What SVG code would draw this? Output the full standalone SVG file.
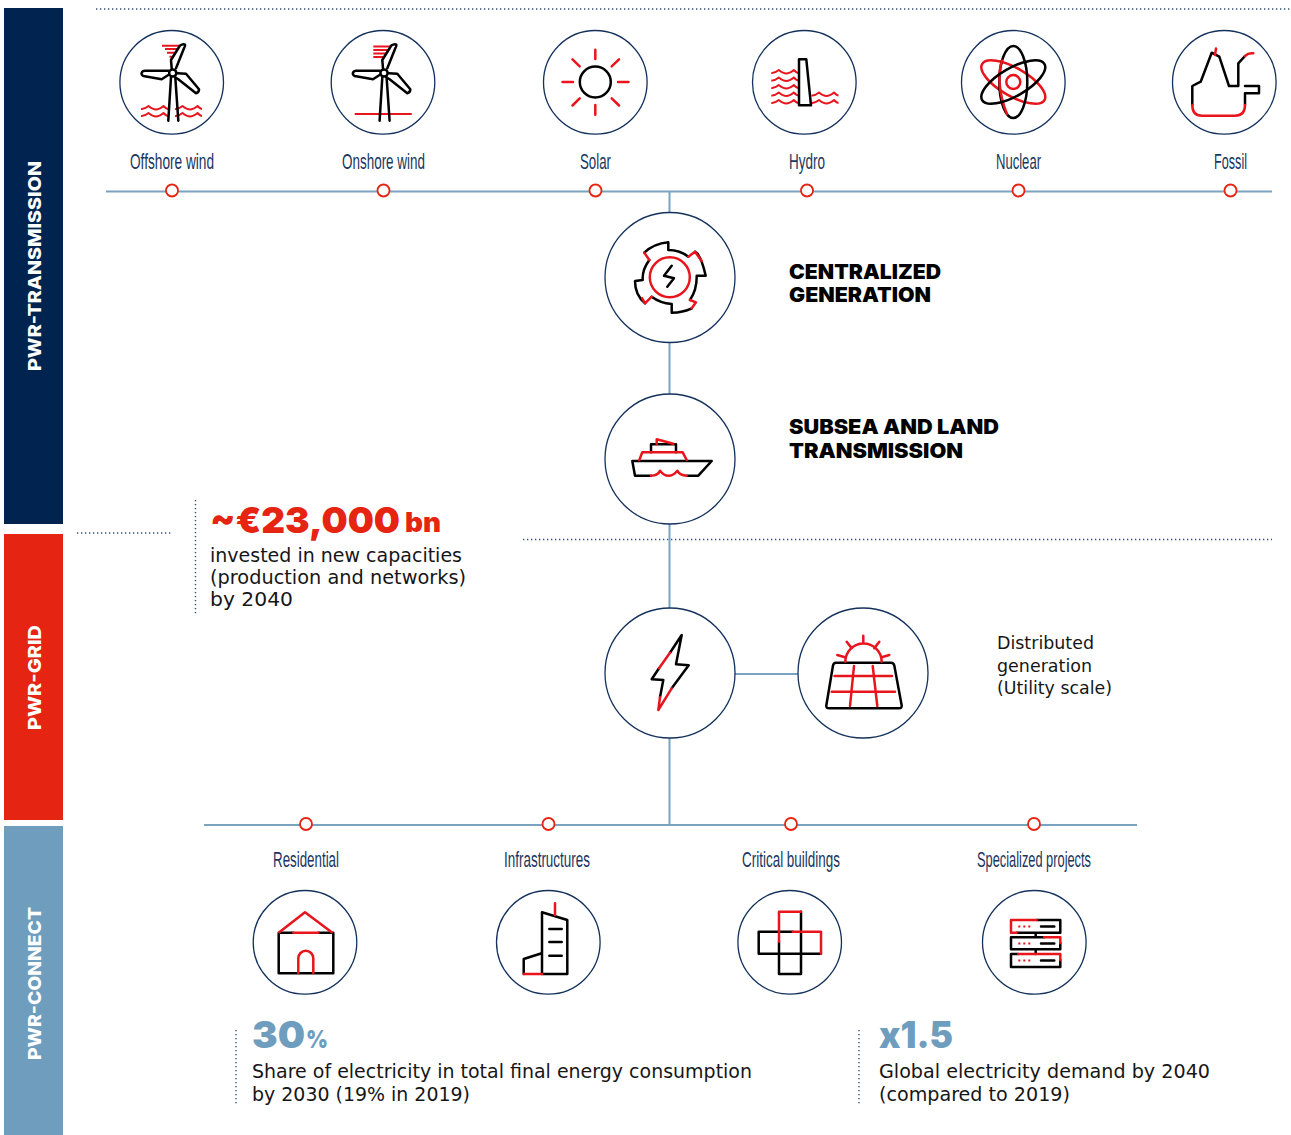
<svg xmlns="http://www.w3.org/2000/svg" width="1291" height="1135" viewBox="0 0 1291 1135">
<style>
text{font-family:"Liberation Sans",Arial,sans-serif}
.ring{fill:#fff;stroke:#14315c;stroke-width:1.3}
.k,.r{fill:none;stroke-width:2.5;stroke-linejoin:round;stroke-linecap:round}
.k{stroke:#000}.r{stroke:#e8151d}
.rw{fill:none;stroke:#e8151d;stroke-width:2;stroke-linejoin:round}
.link{fill:none;stroke:#7ba3bf;stroke-width:2}
.dot{fill:#fff;stroke:#e62412;stroke-width:1.8}
.dots{fill:none;stroke:#2f4c7d;stroke-width:1.4;stroke-dasharray:1.3 2.7}
.lab{font-size:22px;fill:#1a3660;text-anchor:start}
.head{font-family:Inter,"Liberation Sans",sans-serif;font-size:20px;font-weight:900;fill:#000}
.body{font-family:"DejaVu Sans",sans-serif;font-size:19px;fill:#161616}
.small{font-family:"DejaVu Sans",sans-serif;font-size:17.5px;fill:#161616}
.side{font-family:Inter,"Liberation Sans",sans-serif;font-size:18px;font-weight:800;fill:#fff}
.big{font-family:Inter,"Liberation Sans",sans-serif;font-weight:900}
</style>
<defs>
<g id="turbine">
<path class="k" d="M171.700 68.300L171 60L180 45.500Q183 43.500 185 44.500Q185.500 46 184 48.300L176 68.300"/>
<path class="k" d="M168.300 75L161.700 79.300L143.300 76Q141 74.500 141.700 72.700Q142.500 70.700 145 70.700L168.300 70.700"/>
<path class="k" d="M177.300 73.300L186 73.800L199 89.300Q199 92.500 196 93.300L178.300 79.300L175 77.300"/>
<circle class="k" cx="172.700" cy="73" r="3.600"/>
<path class="k" d="M171 77.300L168.300 120.700M175.300 77.300L178.300 120.700"/>
</g>
<path id="wave" class="rw" d="M0 3C3 3.500 5 2 7.500 0C10 2 12 3.500 15 3.500C18 3.500 20 2 22.500 0C24.500 2 26 3 27 3"/>
</defs>

<g id="bands">
<rect x="4" y="8" width="59" height="516" fill="#00244f"/>
<rect x="4" y="534" width="59" height="286" fill="#e62412"/>
<rect x="4" y="826" width="59" height="309" fill="#6f9dbd"/>
<text class="side" transform="translate(41 371) rotate(-90)" textLength="210" lengthAdjust="spacingAndGlyphs">PWR-TRANSMISSION</text>
<text class="side" transform="translate(41 730) rotate(-90)" textLength="105" lengthAdjust="spacingAndGlyphs">PWR-GRID</text>
<text class="side" transform="translate(41 1060) rotate(-90)" textLength="153" lengthAdjust="spacingAndGlyphs">PWR-CONNECT</text>
</g>

<g id="separators">
<path class="dots" d="M96 9H1291M77 533H172M523 539.500H1272M195.500 500V615M236 1030V1105M859 1030V1105"/>
</g>

<g id="connectors">
<path class="link" d="M106 191.500H1272M204 825H1137M669.500 191.500V825M735 674H798"/>
<circle class="dot" cx="172" cy="190.500" r="6"/><circle class="dot" cx="383.500" cy="190.500" r="6"/><circle class="dot" cx="595.500" cy="190.500" r="6"/><circle class="dot" cx="807" cy="190.500" r="6"/><circle class="dot" cx="1018.500" cy="190.500" r="6"/><circle class="dot" cx="1230.500" cy="190.500" r="6"/>
<circle class="dot" cx="306" cy="824" r="6"/><circle class="dot" cx="548.500" cy="824" r="6"/><circle class="dot" cx="791" cy="824" r="6"/><circle class="dot" cx="1034" cy="824" r="6"/>
</g>

<g id="offshore-wind">
<circle class="ring" cx="171.700" cy="82.300" r="51.800"/>
<path class="rw" d="M162 45.700H179M165 49H178M167 52.700H175M169.500 56.700H173"/>
<use href="#wave" x="141" y="106"/><use href="#wave" x="141" y="113"/><use href="#wave" x="175" y="106"/><use href="#wave" x="175" y="113"/>
<use href="#turbine"/>
<text class="lab" x="130" y="169" textLength="84" lengthAdjust="spacingAndGlyphs">Offshore wind</text>
</g>
<g id="onshore-wind">
<circle class="ring" cx="383" cy="82.300" r="51.800"/>
<path class="rw" d="M373.300 46.500H390M373.300 50H389M373.300 53.500H387M373.300 57H383M354.700 114H411.700"/>
<use href="#turbine" x="211.300"/>
<text class="lab" x="342" y="169" textLength="83" lengthAdjust="spacingAndGlyphs">Onshore wind</text>
</g>
<g id="solar">
<circle class="ring" cx="595.300" cy="82.300" r="51.800"/>
<circle class="k" cx="595.300" cy="82" r="15.500"/>
<path class="r" d="M595.300 49.700V59M595.300 105V114.700M562.500 82H573M618 82H628.500M572.500 59.300L579.700 66.300M619 59.300L611.700 66.300M572.500 105.500L579.700 98.300M619 105.500L611.700 98.300"/>
<text class="lab" x="580" y="169" textLength="31" lengthAdjust="spacingAndGlyphs">Solar</text>
</g>
<g id="hydro">
<circle class="ring" cx="804.300" cy="82.300" r="51.800"/>
<use href="#wave" x="771.300" y="70"/><use href="#wave" x="771.300" y="77.500"/><use href="#wave" x="771.300" y="85"/><use href="#wave" x="771.300" y="92.500"/><use href="#wave" x="771.300" y="100"/>
<use href="#wave" x="811.500" y="92.500"/><use href="#wave" x="811.500" y="100"/>
<path class="k" d="M799 59.300H806.300L811 105.300H799Z"/>
<text class="lab" x="789" y="169" textLength="36" lengthAdjust="spacingAndGlyphs">Hydro</text>
</g>
<g id="nuclear">
<circle class="ring" cx="1013.300" cy="82.300" r="51.800"/>
<ellipse class="r" cx="1013.300" cy="82" rx="36" ry="14" transform="rotate(30 1013.300 82)"/>
<ellipse class="k" cx="1013.300" cy="82" rx="14" ry="36"/>
<path class="r" d="M1002 60.500C998 72 998 92 1007 114"/>
<ellipse class="k" cx="1013.300" cy="82" rx="36" ry="14" transform="rotate(-30 1013.300 82)"/>
<circle class="r" cx="1013.300" cy="82" r="7"/>
<text class="lab" x="996" y="169" textLength="45" lengthAdjust="spacingAndGlyphs">Nuclear</text>
</g>
<g id="fossil">
<circle class="ring" cx="1224.300" cy="82.300" r="51.800"/>
<path class="k" d="M1192.300 105V86L1200.700 81.700L1211.700 52.700L1219.300 56.700L1229 86H1238.300V63.300L1245 56M1245 86H1259V93.300H1245V105"/>
<path class="r" d="M1245 56Q1248.500 52.500 1253.300 53.300M1216 48.500L1215 55M1192.300 105Q1192.300 115.700 1201.700 115.700H1235Q1245 115.700 1245 105"/>
<text class="lab" x="1214" y="169" textLength="33" lengthAdjust="spacingAndGlyphs">Fossil</text>
</g>

<g id="centralized-generation">
<circle class="ring" cx="670" cy="277.500" r="65"/>
<path class="k" d="M644.300 252.700Q654 243.500 668.300 242.300V250Q680 250 688.300 256.700M695 251.700Q701 255 705.700 275.700H696.700Q697 290 690 300M691.700 308.300Q683 312.500 671.700 312.700V304Q660 303 651.700 296.700M645 303.300Q635 295 635 281L642.700 280Q642 270 649.300 260"/>
<path class="r" d="M688.300 256.700L695 251.700L701.700 261M690 300L696 302.300L691.700 308.300M651.700 296.700L645 303.300L642 298M649.300 260L644.300 252.700"/>
<circle class="r" cx="669.800" cy="277.300" r="20"/>
<path class="k" d="M671.700 265.700L664 275.700L674 278.300L667.300 286.700"/>
<text class="head" x="789" y="279" textLength="152" lengthAdjust="spacingAndGlyphs">CENTRALIZED</text>
<text class="head" x="789" y="302" textLength="142" lengthAdjust="spacingAndGlyphs">GENERATION</text>
</g>
<g id="subsea-land-transmission">
<circle class="ring" cx="670" cy="459" r="65"/>
<path class="k" d="M651 475.700H635L632.300 461H711.700L698.300 475.700H686.700M651 452.300V444.300H676V452.300"/>
<path class="r" d="M639.300 460L642.300 452.300H682.700L686.700 460M656.700 444.300V439.300L673.300 443.700M651 475.700Q658 475.500 660 470.700Q664 475.700 668.300 475.700Q673.500 475.700 677.300 470.700Q680 475.700 686.700 475.700"/>
<text class="head" x="789" y="434" textLength="210" lengthAdjust="spacingAndGlyphs">SUBSEA AND LAND</text>
<text class="head" x="789" y="458" textLength="174" lengthAdjust="spacingAndGlyphs">TRANSMISSION</text>
</g>
<g id="grid">
<circle class="ring" cx="670" cy="673" r="65"/>
<path class="k" d="M670 652.700L681.700 635L676 664.300L688.700 665.300L671.700 688.300M659 668.300L651.700 679.300L663.300 680L660 697.300"/>
<path class="r" d="M670 652.700L659 668.300M660 697.300L658.300 710L671.700 688.300"/>
</g>
<g id="distributed-generation">
<circle class="ring" cx="863" cy="673" r="65"/>
<path class="k" d="M836 662.700H891Q893.700 662.700 894.300 665.500L901.700 705.500Q902 708.300 899 708.300H829Q826 708.300 826.300 705.500L833 665.500Q833.500 662.700 836 662.700Z"/>
<path class="r" d="M834.500 676H892M831.700 691.700H895M854 666L850 706M872.700 666L877.300 706M845.300 661.700A18.200 18.200 0 0 1 881.700 661.700M863.300 635.700V643.300M846.700 641.700L851.700 648.300M879.300 641.700L874.300 648.300M837.300 655L845 657.300M889.300 655L881.700 657.300"/>
<text class="small" x="997" y="649" textLength="97" lengthAdjust="spacingAndGlyphs">Distributed</text>
<text class="small" x="997" y="672" textLength="95" lengthAdjust="spacingAndGlyphs">generation</text>
<text class="small" x="997" y="694" textLength="115" lengthAdjust="spacingAndGlyphs">(Utility scale)</text>
</g>

<g id="stat-investment">
<text class="big" x="210" y="533" font-size="36" fill="#e62412" textLength="190" lengthAdjust="spacingAndGlyphs">~€23,000</text>
<text class="big" x="405" y="532" font-size="27" fill="#e62412" textLength="36" lengthAdjust="spacingAndGlyphs">bn</text>
<text class="body" x="210" y="562" textLength="252" lengthAdjust="spacingAndGlyphs">invested in new capacities</text>
<text class="body" x="210" y="584" textLength="256" lengthAdjust="spacingAndGlyphs">(production and networks)</text>
<text class="body" x="210" y="606" textLength="83" lengthAdjust="spacingAndGlyphs">by 2040</text>
</g>

<g id="residential">
<circle class="ring" cx="305" cy="942.300" r="51.800"/>
<path class="k" d="M293.300 932.700H278.700V973.300H333.300V932.700H318.300"/>
<path class="r" d="M279.300 932.300L305 912.300L331.700 932.300M293.300 932.700H318.300M298.300 973V958.300A7.500 7.500 0 0 1 313.300 958.300V973"/>
<text class="lab" x="273" y="867" textLength="66" lengthAdjust="spacingAndGlyphs">Residential</text>
</g>
<g id="infrastructures">
<circle class="ring" cx="548.300" cy="942.300" r="51.800"/>
<path class="k" d="M542 912.300L567.300 920V974H542ZM549.300 929H561.700M549.300 942H561.700M549.300 955.700H561.700M541.700 953.300L523.700 959V974"/>
<path class="r" d="M555 903.300V915M523.700 974H542"/>
<text class="lab" x="504" y="867" textLength="86" lengthAdjust="spacingAndGlyphs">Infrastructures</text>
</g>
<g id="critical-buildings">
<circle class="ring" cx="789.700" cy="942.300" r="51.800"/>
<path class="k" d="M801 911.700V974H779V941.700M792.700 931.700H758.700V953.700H821"/>
<path class="r" d="M779 941.700V911.700H801M821 953.700V931.700H792.700"/>
<text class="lab" x="742" y="867" textLength="98" lengthAdjust="spacingAndGlyphs">Critical buildings</text>
</g>
<g id="specialized-projects">
<circle class="ring" cx="1034.300" cy="942.300" r="51.800"/>
<path class="k" d="M1036.700 920H1060.300V932.700H1016.700M1035.700 932.700V937.300M1044 937.300H1011V949.300H1060.300V943M1035.700 949.300V954M1018.300 954H1011V967H1060.300V960M1041 926.500H1054.300M1041 943.500H1054.300M1041 960.500H1054.300"/>
<path class="r" d="M1036.700 920H1011V932.700H1016.700M1044 937.300H1060.300V943M1018.300 954H1060.300V960"/>
<path d="M1018.300 926.500h2M1023.300 926.500h2M1028.300 926.500h2M1018.300 943.500h2M1023.300 943.500h2M1028.300 943.500h2M1018.300 960.500h2M1023.300 960.500h2M1028.300 960.500h2" fill="none" stroke="#e8151d" stroke-width="2"/>
<text class="lab" x="977" y="867" textLength="114" lengthAdjust="spacingAndGlyphs">Specialized projects</text>
</g>

<g id="stat-share">
<text class="big" x="252" y="1048" font-size="37" fill="#6f9dbd" textLength="53" lengthAdjust="spacingAndGlyphs">30</text>
<text class="big" x="306" y="1048" font-size="25" font-weight="800" fill="#6f9dbd" textLength="22" lengthAdjust="spacingAndGlyphs">%</text>
<text class="body" x="252" y="1078" textLength="500" lengthAdjust="spacingAndGlyphs">Share of electricity in total final energy consumption</text>
<text class="body" x="252" y="1101" textLength="218" lengthAdjust="spacingAndGlyphs">by 2030 (19% in 2019)</text>
</g>
<g id="stat-demand">
<text class="big" x="879" y="1048" font-size="37" fill="#6f9dbd" textLength="74" lengthAdjust="spacingAndGlyphs">x1.5</text>
<text class="body" x="879" y="1078" textLength="331" lengthAdjust="spacingAndGlyphs">Global electricity demand by 2040</text>
<text class="body" x="879" y="1101" textLength="191" lengthAdjust="spacingAndGlyphs">(compared to 2019)</text>
</g>
</svg>
